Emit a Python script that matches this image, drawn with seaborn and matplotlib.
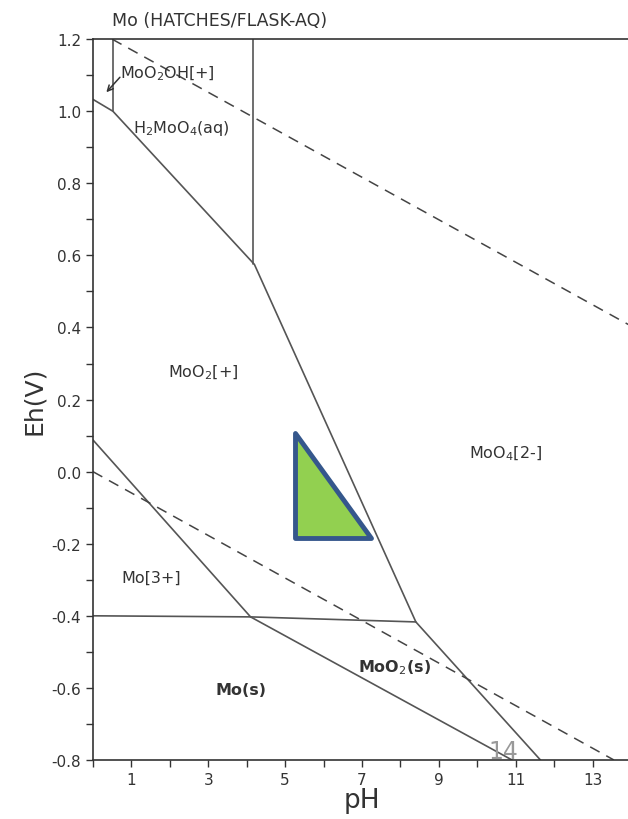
import numpy as np
import pandas as pd
import seaborn as sns
import matplotlib.pyplot as plt
from matplotlib.ticker import MultipleLocator, FuncFormatter

# boundary lines of the Eh-pH diagram (pH, Eh)
seg_ids = ['a', 'a', 'a', 'a', 'a', 'b', 'b', 'c', 'c', 'd', 'd', 'd', 'e', 'e', 'f', 'f']
seg_ph = [0.0, 0.52, 4.20, 8.40, 11.64, 0.52, 0.52, 4.17, 4.17, 0.0, 4.10, 8.40, 0.0, 4.10, 4.10, 10.9]
seg_eh = [1.033, 1.0, 0.575, -0.417, -0.80, 1.20, 1.0, 1.20, 0.575, -0.40, -0.403, -0.417, 0.088, -0.403, -0.403, -0.80]

# water stability lines (dashed)
water_ids = ['up', 'up', 'low', 'low']
water_ph = [0.5, 14.0, 0.0, 13.55]
water_eh = [1.20, 0.404, 0.0, -0.80]

# species labels
lab_text = [r'MoO$_2$OH[+]', r'H$_2$MoO$_4$(aq)', r'MoO$_2$[+]', r'MoO$_4$[2-]',
            'Mo[3+]', 'Mo(s)', r'MoO$_2$(s)']
lab_ph = [0.70, 1.04, 1.95, 9.77, 0.75, 3.18, 6.90]
lab_eh = [1.108, 0.955, 0.278, 0.053, -0.292, -0.605, -0.54]
lab_weight = ['normal', 'normal', 'normal', 'normal', 'normal', 'bold', 'bold']

# highlighted triangle
tri_ph = [5.26, 5.26, 7.24]
tri_eh = [0.108, -0.183, -0.183]

plt.rcParams['axes.unicode_minus'] = False
sns.set_style('ticks')
plt.rcParams['font.family'] = ['DejaVu Sans']

fig = plt.figure(figsize=(6.28, 8.2), dpi=100)
ax = fig.add_axes([0.148, 0.0720, 0.857, 0.879])

seg = pd.DataFrame({'id': seg_ids, 'pH': seg_ph, 'Eh': seg_eh})
for sid, grp in seg.groupby('id', sort=False):
    sns.lineplot(data=grp, x='pH', y='Eh', sort=False, estimator=None,
                 color='#555555', linewidth=1.2, ax=ax)

wat = pd.DataFrame({'id': water_ids, 'pH': water_ph, 'Eh': water_eh})
for wid, grp in wat.groupby('id', sort=False):
    sns.lineplot(data=grp, x='pH', y='Eh', sort=False, estimator=None,
                 color='#444444', linewidth=1.1, linestyle=(0, (7, 5)), ax=ax)

ax.fill(tri_ph, tri_eh, facecolor='#92D050', edgecolor='#35578C',
        linewidth=3.5, joinstyle='round', zorder=5)

for t, x, y, w in zip(lab_text, lab_ph, lab_eh, lab_weight):
    ax.text(x, y, t, fontsize=11.5, color='#333333', fontweight=w,
            ha='left', va='center')

ax.annotate('', xy=(0.30, 1.047), xytext=(0.75, 1.10),
            arrowprops=dict(arrowstyle='->', color='#333333', lw=1.1))

ax.text(10.3, -0.775, '14', fontsize=17, color='#999999', ha='left', va='center')

ax.set_xlim(0, 14)
ax.set_ylim(-0.8, 1.2)
ax.xaxis.set_major_locator(MultipleLocator(1))
ax.xaxis.set_major_formatter(FuncFormatter(lambda v, p: '%d' % v if int(round(v)) % 2 == 1 else ''))
ax.yaxis.set_major_locator(MultipleLocator(0.2))
ax.yaxis.set_minor_locator(MultipleLocator(0.1))
ax.yaxis.set_major_formatter(FuncFormatter(lambda v, p: '%.1f' % v))
ax.tick_params(axis='both', which='major', direction='out', length=5, width=1,
               labelsize=11, colors='#333333')
ax.tick_params(axis='y', which='minor', direction='out', length=5, width=1, colors='#333333')
for side in ['left', 'bottom', 'top']:
    ax.spines[side].set_color('#333333')
    ax.spines[side].set_linewidth(1.2)
ax.spines['right'].set_visible(False)

ax.set_xlabel('pH', fontsize=19, color='#333333', labelpad=0)
ax.set_ylabel('Eh(V)', fontsize=18, color='#333333', labelpad=4)
ax.set_title('Mo (HATCHES/FLASK-AQ)', fontsize=12.5, color='#333333', loc='left', x=0.035, pad=10)

fig.savefig('out.png', dpi=100)
